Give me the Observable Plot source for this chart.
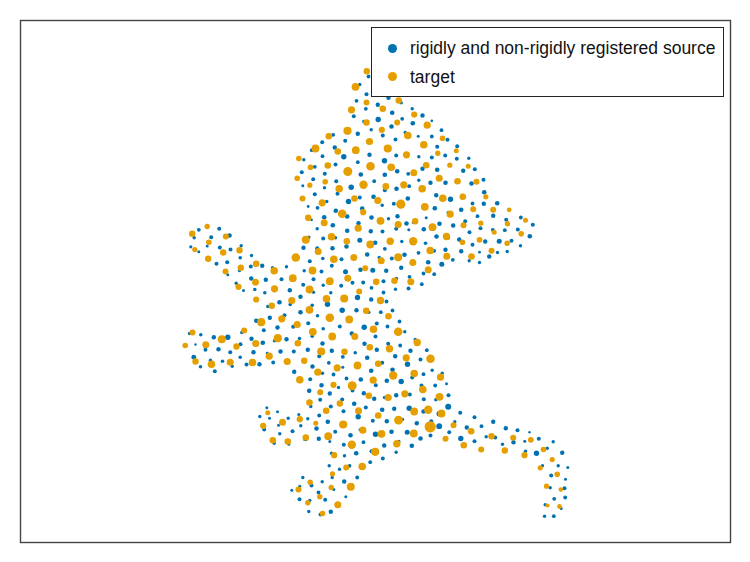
<!DOCTYPE html>
<html>
<head>
<meta charset="utf-8">
<script src="https://cdn.jsdelivr.net/npm/d3@7"></script>
<script src="https://cdn.jsdelivr.net/npm/@observablehq/plot@0.6"></script>
<style>
html,body{margin:0;padding:0;background:#fff}
#wrap{position:relative;width:750px;height:562px;font-family:"Liberation Sans",Arial,sans-serif;color:#111}
#wrap svg{display:block}
#legend{position:absolute;left:371px;top:26.5px;width:351px;height:68.5px;background:#fff;border:1px solid #222;box-sizing:content-box}
.row{position:absolute;left:0;white-space:nowrap;font-size:17.5px;line-height:20px}
.row .k{position:absolute;left:15.5px;top:5.5px;width:9px;height:9px;border-radius:50%}
.row .t{position:absolute;left:38px;top:0}
</style>
</head>
<body>
<div id="wrap"></div>
<script>
const legendLabels = ["rigidly and non-rigidly registered source", "target"];
const colors = ["#0072B2", "#E69F00"];
const xDomain = [20, 730];
const yDomain = [20, 542];

// [x, y, size]
const sourcePoints = [
[218.7,228.3,2],[198.3,229.3,1.9],[193.7,237.3,1.7],[210.7,236.7,2],[229,235,2.3],[190.3,246.3,1.6],[206.7,245.7,1.4],[219.3,247,2],[198.3,251.3,1.5],[230,249,2],[240.7,245.3,1.7],[251,255,1.7],[239.7,257.3,1.8],[216,263.3,2],[226.7,261.7,2],[250.3,266,2],[261.7,265.3,2.2],[239,270,1.7],[227.3,274.3,1.5],[286,266.3,1.7],[272,267.3,1.7],[250.7,278,2.2],[265.3,279.3,2.2],[281,278.7,2],[235.7,282.7,1.7],[254.3,289,1.8],[243,290,1.5],[264.3,292.3,1.8],[289.3,289.7,2.2],[279,301.7,2.3],[267.3,306,1.7],[289.7,304,1.8],[269.3,317.3,2.2],[255.7,320.3,2.2],[284,314.7,2],[277,327,2.2],[263.3,329.7,2],[241.3,332,1.7],[189,333,1.7],[200.3,334.3,1.8],[213.3,336.7,2.2],[227.3,336.7,2.7],[251,338.3,2.2],[262.3,342.3,2.3],[274,340.3,1.7],[286,338.7,2.2],[240,343.7,2],[195,344,1.2],[205,349.3,2],[218,348.7,2.2],[229.7,351.7,2],[253,351.7,2.2],[266.7,352.7,1.4],[280,351,2.2],[239.7,356.7,1.8],[193.3,356.7,2.4],[210,359.7,1.7],[222,360.7,1.8],[200,366.3,1.8],[231.7,365.7,1.7],[246,364,2],[214.3,370.7,2],
[316.7,228.3,1.7],[346.7,230.3,2.3],[322.7,238,2],[335,237.3,1.7],[308.3,236.7,1.7],[359.3,239.7,2.5],[303,247.3,2.2],[332,247.7,2.2],[346,246,2.3],[316.7,247.7,2],[366.7,254,2.3],[309.3,260.7,2],[322.3,258,1.8],[341,258.7,2],[331.3,265.3,2],[345,271.3,2.5],[360,269.3,2.3],[303.7,270.3,1.7],[321,271,2],[313,278.7,2],[302.7,284.3,2],[322.7,284.7,1.7],[340.7,285.3,2],[352,282.3,2],[362.7,282,2],[330.3,292.3,1.7],[313,291.7,1.7],[300,296.3,2.2],[357,297,2.7],[327,303.7,2.7],[311.7,304.7,1.8],[300,311.7,2.3],[341.7,309.7,2.7],[356,309.7,2.2],[317,315.3,1.8],[307.7,322.7,2],[292.7,326.3,2],[339.3,326,2],[363.7,326.7,2.7],[322.7,328.3,1.8],[311.7,335.7,1.8],[351.3,333,2.2],[299,338,1.8],[322,343,2.2],[364,343.3,2.2],[307.3,349.3,2.2],[293.3,351,2],[331.3,350.3,2.2],[354.7,352.3,1.8],
[496.7,202.7,2.3],[492.7,215.3,2.2],[505.7,219.3,2],[520.3,217,1.9],[532.3,224.3,2],[492.3,229.3,1.9],[504.3,229.7,1.9],[517.3,229,2],[529.3,235.7,2.3],[498.7,240.7,2.5],[511,240.3,2],[520,245.3,1.7],[497,252,1.7],[506.7,251,1.7],
[370.3,230.7,2.2],[382,231,2],[395.7,228.3,2],[408.3,229.3,1.5],[423.3,228.7,2.3],[469,231.7,2],[480,227.7,2],[436,236,2.3],[448,237.7,1.4],[458.7,239,2.2],[472,244.3,2],[484.7,241,2.2],[374.7,242.3,2.3],[401.3,241,1.7],[425,242.7,1.8],[384.3,248.3,1.9],[418,252.3,1.9],[433.7,250.3,1.9],[445,249.3,2.2],[460.7,250.7,2.2],[479,251.7,1.4],[488.7,256,2.2],[391.3,258,2],[404,254.3,2.3],[378.7,257,1.7],[452.3,259.3,1.9],[468.7,260.3,1.7],[427.7,261.7,2.3],[441.3,263.7,2.5],[479,262,1.7],[372.3,269.7,2.5],[385.7,270.3,2.2],[400.7,267.3,2.2],[423,273,1.9],[433.7,273.7,1.9],[409,276.3,1.9],[383,280.7,2],[396,278,1.7],[421.3,283.7,1.9],[371,287.3,1.9],[395,288.7,1.7],[408,288,2],[383,292,1.9],[370.7,299,2.2],[386,301,1.9],[368.3,311.7,1.7],[380.3,311.7,1.9],[392,310,1.9],[399,321,1.9],[376.3,323,2],[387,326,1.9],[404.3,331.3,1.7],[375,336,2],[387.7,343.3,2],[399.7,345,1.9],[414.7,339,1.7],[376.3,349.3,2.2],[426.3,349.7,1.9],[410,350.3,2.2],
[259,363.7,2.2],[272.7,362,1.9],[318.7,355.7,2],[342.3,356.3,1.9],[366.7,357.3,2.3],[394.7,355.7,2.2],[420,359,2],[312,366,2.2],[328.3,362.3,1.9],[342.3,366.7,1.5],[381.7,362.3,2],[407,363.7,2.7],[293.7,371.3,2.2],[322,372.7,1.7],[370.7,370.3,2.3],[392,369.3,2.3],[431.7,369.7,1.7],[333,374,1.9],[423,373.7,1.9],[441.7,372.7,1.7],[309.7,378.7,2],[346,378,1.9],[360.3,379,2.3],[386.3,380.3,2.3],[400.7,381,2.7],[411.7,377,2],[321,384.7,2.2],[375.3,384.7,2],[434.7,385,1.9],[446,383.3,1.5],[338,387,1.7],[421,385,2],[308.7,390.3,2.3],[329.3,393,2.2],[352,390,2],[363.3,392.7,2.2],[373.7,398.3,2.2],[395.7,394.7,2.2],[409.3,394,2],[384,397,1.7],[448,394.7,2],[319.7,399.3,2],[341.7,399,2],[423.3,398.7,2],[435.3,399.3,1.7],[353.7,403.3,2.3],[330.3,406,2],[310.3,406,1.7],[365.3,407,2],[381.7,409.3,2.3],[393.7,408.3,2.2],[408.7,407.7,2.7],[423,411,2.2],[447.7,406.3,3],[343,410.7,2],[266.3,407.3,1.5],[277,411.3,1.5],[298.3,414,1.5],[438.7,413.3,2.7],[318.7,415,2],[357.7,416.3,2.7],[259.3,416,1.7],[269,417.7,1.5],[287.7,417.7,1.7],[307.3,418.3,1.7],[372.3,420.3,2],[386.3,420.7,2.2],[402,419,1.7],[327.3,421.3,2.3],[416.3,422.7,2.2],[430.7,420.7,2],[278,424.7,1.5],[300.3,425.3,1.7],[438.7,425.7,2.9],[316,428,2.3],[263.7,429,2],[292,430.7,2],[334.7,431.3,2],[359.7,429.3,1.7],[375,433.7,2.7],[391,431.3,2.3],[406.7,431.7,2.5],[448.7,431.7,2],[279.3,433.3,1.7],[350,434.7,2.3],[430,435,2],[420,438,2.3],[305,438.3,2.5],[318.3,438.3,2.2],[273.7,442.7,1.7],[288.3,443.7,1.5],[329.3,441,1.5],[363,441.7,1.9],[398.3,441,1.7],[343.3,444.3,2],[383.7,445,2.2],[411.3,445.3,2.3],[371,450.7,2],[355.7,452.7,2.3],[395.7,451.7,1.7],[331,452.7,1.7],[344,455.3,1.7],[382.3,458,2],[369.7,461.7,1.9],[328.7,465.3,1.7],[349,465.3,1.9],[339,468.7,1.7],[331.7,477,1.7],[356.7,477,1.9],[302.3,477,1.7],[343.7,481,2.2],[321.7,481.3,1.7],[311,485,2],[299.3,485.7,1.5],[291.3,489.7,1.5],[333.3,489,1.5],[318,492,1.9],[345.3,496.3,1.5],[324.7,499.3,2],[299,498.7,2],[309.3,500,1.7],[308.3,511,1.7],[330.3,511.3,2.2],[320,514,2],
[474,416.7,2],[459.7,412.3,2],[492.7,421.3,2.2],[454.3,421.3,1.7],[481,425.7,1.9],[466.3,427,2.2],[505.3,427.7,2.2],[517,429.7,2],[529,431.7,1.2],[538.3,438.3,2],[485.7,436.3,1.7],[494.7,437,2],[460.3,438,2.7],[474,440.7,2],[513,441.7,2.2],[524.3,440.7,1.5],[502,443.7,1.7],[552.7,441.3,1.7],[546.7,447.7,1.7],[525,450.7,1.7],[536,452.7,2.7],[561.7,452.3,2.2],[542,465.3,1.7],[557.7,465.3,1.7],[567.3,467,1.5],[550.7,475,2],[565,478.7,1.5],[549.7,487.3,1.7],[564,487.7,2],[553.7,498.3,1.9],[564.7,497,1.9],[544.7,504.3,1.7],[560.7,508,1.5],[544,515.7,1.7],[553.3,515.7,1.9],
[368,76,1.9],[359.3,84,1.7],[366,93.7,2],[388,97.3,2.2],[356,100.3,1.9],[400.7,102.3,1.7],[377.3,104.3,2.2],[365.3,108.3,1.9],[411.7,108.3,1.7],[391.7,112.3,2.3],[422,115,2.2],[353.3,115.7,2],[377.7,119,2.7],[401.7,118.3,1.9],[412.3,122.7,2.3],[431.3,120.3,1.4],[363.3,121,1.7],[391,126,2.3],[441,129.7,1.9],[370.7,129.3,1.7],[357.3,133.3,2.2],[332.7,134.3,1.9],[404.7,132,1.7],[417.7,135.7,1.5],[382.3,135,2],[431.3,136,1.9],[447,139.3,2],[395,139,2],[344.7,140.3,2],[321.7,141.7,2],[334.3,147,2.2],[436.7,146.3,2],[456.7,145.7,2],[311.3,149.7,1.9],[369,154.3,2.2],[444.7,155,2],[395.7,155,2],[418.3,156.3,1.7],[431.3,157,2],[322,155.7,1.9],[343.3,156.3,2.7],[456.3,158.3,2],[468.3,157.7,1.7],[303.3,159.3,1.7],[384,160.3,2.7],[357.3,161.7,1.9],[314.3,166.3,1.9],[335,164,2],[422,168.3,2.2],[396.7,170.7,2.3],[436.7,169.3,2.3],[462.7,170.3,2.2],[474.3,168.7,2],[301.3,171.7,2],[324.3,173.3,2],[384.3,174.3,2.3],[360.3,174,2.3],[407.7,173.3,1.9],[312.7,178.7,2],[335.7,180.7,2],[373.7,180.7,1.9],[418.3,179.7,1.7],[430,182.3,2.2],[445,182.3,2.3],[471,183,2.3],[483,179.3,2],[302.3,185.3,1.5],[324,187.3,1.7],[350.7,186.7,2.7],[408.7,185.7,1.9],[396,188.3,2.3],[384.3,189.7,2],[314.3,193.7,2],[337,193.3,2],[435.7,194.7,2.2],[483.7,191.7,2.3],[359.3,197,2],[373,196.3,2.3],[407.3,198,2.3],[450,198.7,2.7],[348,201,2.7],[326.3,201,1.7],[307.7,206,1.4],[381.7,204.7,1.7],[393.3,203.3,2],[472,203,1.9],[483.3,203.3,2.2],[317,207.3,1.9],[335.3,210.3,2.3],[361.7,208,2.3],[434.3,207.7,2.3],[460.7,209.3,2.3],[447.7,212,1.7],[323.7,216.7,2.3],[346.7,216,2.3],[371,217,2.3],[397,215.7,2.2],[425.7,217.3,1.5],[477,215.7,1.9],[311,219.3,1.4],[358,222.7,2.2],[332.3,224.7,2.3],[388,218.3,1.7],[406,223,2.3],[439,223.3,2.3],[452.7,225,2.3],[464.7,220.7,2],[413,222,1.7]
];

const targetPoints = [
[206.7,226,2.7],[191.7,233.3,3.2],[225.3,236,3],[208.3,241.7,2.8],[194.3,249,2.6],[222.7,252,3.2],[239,249.7,3.2],[207.7,258.3,3.2],[255.7,263.3,3.3],[240.3,267.3,3.2],[225,271,3],[273.7,270.3,3.8],[255,281.7,3.4],[238,286.3,3.1],[274,288.3,3.6],[255.7,299,3.1],[271.3,305.3,3.2],[260.7,321.7,4.1],[281.3,318.3,3.6],[243.7,330,3],[192,332,3],[221.3,338.7,4],[184.7,345,2.8],[205.3,344.3,3.5],[236,346,3.2],[255.3,343,3.6],[277.3,337.7,4.1],[297.3,342.7,3.3],[195,361,3.2],[211,363.7,3.8],[229.7,361.7,3.5],
[305.3,239.3,4],[331,236.3,3.8],[346.3,240.7,3.3],[317.7,251,3.5],[295.3,257,4.3],[333.3,258.7,3.8],[353.3,257,3.5],[312,270,3.9],[364.7,267.7,3],[292.3,277.7,3.9],[329.3,280.7,3.9],[347.3,277.7,3.5],[309,289,3.9],[358.7,291,3],[291.3,300,3.6],[326,298.3,3.8],[343.7,298,4],[309,309.3,3.9],[365.7,310.3,3.3],[329.3,317.3,4.3],[348.7,319,3.9],[296.7,324,3.6],[312.3,331.3,3.9],[331.7,336,3.9],[354.3,336,3.5],[320.7,351,4.1],[344,351.3,3.2],
[252,362,3.8],[268.7,355.7,3.6],[286.7,361,3.6],[303.7,360.3,3.2],[336.7,367.3,3.6],[357,365,3.9],[377.7,363.3,3.3],[405.7,357.3,3.6],[430,358.3,4.3],[299.3,379.3,3.8],[317.3,371.7,3.6],[372.7,379.7,3.6],[392.7,375,4.2],[413.7,373,3.8],[440,376.7,3.6],[333,384.3,3.1],[351.7,385.3,4.5],[319.7,391.7,3],[368.3,395.3,3.3],[387.7,397,3.6],[404.3,393.3,3.6],[422.3,389,3.8],[439,396.3,3.9],[309,402,3.3],[339.3,403,3.2],[325.7,410.3,3.3],[358,410.3,3.5],[377.7,415,3.3],[413.7,411,3.9],[427.7,409.3,4.2],[441,413,3.9],[267.3,412.3,2.5],[282,421.7,3.5],[299.3,418.7,3.1],[315.3,422.7,2.5],[342.7,424,4.1],[398,419.7,4.4],[262.7,425.3,3.1],[429.7,426.3,5.6],[362.3,429.7,3.6],[381,433.3,3.9],[413.3,433,3.9],[272.3,439.7,3.3],[287.3,441,3.3],[305.3,437,3.3],[327.7,435.7,3.9],[445,438.3,3],[351.3,444.3,4.2],[396.3,443.3,3.7],[374.7,451.3,4.1],[333.7,454.7,3.1],[361.7,466,3.8],[345.7,467,3],[332,473.3,2.6],[309.7,481.7,2.7],[350.3,486.3,4],[330.7,487,2.7],[298,489,3],[319.3,496.3,2.7],[307.3,502.3,2.7],[337.3,504.3,3.5],[322,513,2.8],
[453,424.7,3],[470.7,430.7,3.3],[463.3,444.7,3.3],[480.7,449,3],[491,435.7,3.2],[504.3,450,3.2],[512.7,437.3,3],[530.3,439.3,2.9],[524,454.7,3.1],[543,449,2.8],[551.7,459,2.6],[539.7,467.3,2.6],[556.7,473.7,2.8],[546,485.7,2.6],[560.3,489,2.3],[547,505,2.1],[559,506,2.4],
[366.3,70.7,3.2],[355,86.3,3.9],[398.3,100,3.3],[366,102,3],[351,109.3,3.6],[382.3,108.3,3.3],[413.7,114,3.1],[366,122,3.3],[396.7,122,3],[426.7,124.7,3.6],[347,130.3,4.1],[381.3,129.3,3.1],[407.3,135,3.8],[328.3,135.7,3.3],[369,141,3.6],[442,137.7,2.8],[423.3,144.3,3.8],[315,148,3.9],[355.3,149.7,3.9],[387.3,148,4.1],[337.3,151,3.3],[437.3,152.7,2.7],[455.7,150.3,2.5],[406,154.3,3.6],[298.3,158,2.8],[310,166.7,2.8],[327.3,165,3.3],[370,165.7,4.3],[390.7,166.7,3.8],[425.7,164.7,3.3],[449.3,164.7,2.6],[467.7,165.7,2.5],[347.3,171,4.5],[413.3,172.3,3.5],[296.7,177.7,2.8],[324.7,181.3,2.8],[438.7,177.7,3.5],[457,180.7,3.3],[476,181.3,3],[309.3,184.7,2.6],[363,184.3,4.2],[403.3,184.3,3.6],[385.3,186,3.4],[338.7,188.3,3.8],[421.7,188.3,3.8],[302,198,3],[354,198,3.3],[377.3,200,3.6],[442.3,197.7,3.8],[462.3,196.3,3.3],[485.3,196.3,2.6],[321.7,202.3,3.6],[400.3,203.7,4.6],[424.3,206.3,3.9],[472.7,208.7,3],[362.7,211.7,3.1],[341.7,213.3,4.3],[449.7,213.7,3.6],[307.7,217.3,3.2],[414.7,220.7,3.2],[380,220.3,3.9],[323.7,222.3,3.5],[397.7,224,3.6],[480.3,222.7,2.6],[463,224.7,3],[432,226.7,3.9],[357.7,227.7,3.6],
[492.7,209.3,3],[508.7,209.3,2.4],[507,223.3,2.7],[525,219.7,2.5],[520.7,233.3,2.8],[506.7,242.7,2.8],[493.7,231.7,2.5],[491,250.3,3],
[369.7,244,3.9],[389.7,240.7,3.7],[412.7,240.7,4.2],[446,236,3.7],[462,241.7,2.8],[479,239.3,2.9],[429.7,250,3.8],[397.7,256.7,4],[380.7,260.3,3.5],[446.3,255.7,3.5],[471,256,3.3],[412.3,262,3.5],[427.7,269.3,3.5],[375.7,281.3,3.3],[394,280.3,3.3],[410.3,281.3,3.5],[380,300,3.7],[388,315.7,3.3],[373,328.7,3.8],[397.7,331.3,4.3],[416.7,342,3.7],[369.3,346.7,3.3],[389,348.3,3.7]
];

const toRows = a => a.map(([x, y, size]) => ({x, y, size}));

const chart = Plot.plot({
  width: 750,
  height: 562,
  marginTop: 20,
  marginRight: 20,
  marginBottom: 20,
  marginLeft: 20,
  x: {domain: xDomain, axis: null},
  y: {domain: yDomain, axis: null, reverse: true},
  r: {type: "identity"},
  marks: [
    Plot.dot(toRows(sourcePoints), {x: "x", y: "y", r: "size", fill: colors[0]}),
    Plot.dot(toRows(targetPoints), {x: "x", y: "y", r: "size", fill: colors[1]}),
    Plot.frame({stroke: "#444", strokeWidth: 1.4})
  ]
});

const wrap = document.getElementById("wrap");
wrap.appendChild(chart);

const legend = document.createElement("div");
legend.id = "legend";
legendLabels.forEach((label, i) => {
  const row = document.createElement("div");
  row.className = "row";
  row.style.top = (10.5 + i * 28.5) + "px";
  row.style.width = "100%";
  const k = document.createElement("span");
  k.className = "k";
  k.style.background = colors[i];
  const t = document.createElement("span");
  t.className = "t";
  t.textContent = label;
  row.append(k, t);
  legend.appendChild(row);
});
wrap.appendChild(legend);
</script>
</body>
</html>
